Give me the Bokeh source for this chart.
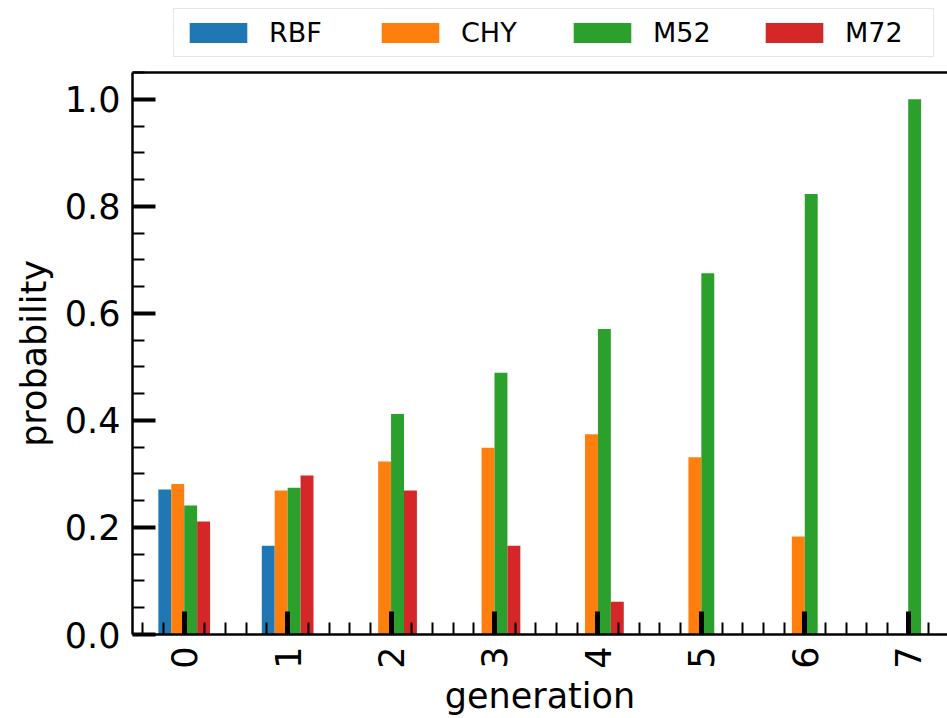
import math
from bokeh.plotting import figure
from bokeh.layouts import column
from bokeh.models import (Range1d, FixedTicker, LinearAxis, Legend, LegendItem,
                          ColumnDataSource, PrintfTickFormatter)
from bokeh.embed import file_html
from bokeh.resources import INLINE

generations = [0, 1, 2, 3, 4, 5, 6, 7]
tick_labels = ["0", "1", "2", "3", "4", "5", "6", "7"]
rbf = [0.271, 0.166, 0.0, 0.0, 0.0, 0.0, 0.0, 0.0]
chy = [0.281, 0.269, 0.323, 0.349, 0.374, 0.331, 0.183, 0.0]
m52 = [0.241, 0.274, 0.412, 0.489, 0.571, 0.675, 0.823, 1.0]
m72 = [0.211, 0.297, 0.269, 0.166, 0.061, 0.0, 0.0, 0.0]

series = [("RBF", rbf, "#1f77b4"), ("CHY", chy, "#ff7f0e"),
          ("M52", m52, "#2ca02c"), ("M72", m72, "#d62728")]

FONT = "DejaVu Sans"
W = 947

bar_w = 0.125
offsets = [-0.1875, -0.0625, 0.0625, 0.1875]
sources = [ColumnDataSource(dict(x=[g + off for g in generations], top=vals))
           for (name, vals, color), off in zip(series, offsets)]

# ---- main plot ----
p = figure(width=W, height=658, x_range=Range1d(-0.5, 7.38), y_range=Range1d(0, 1.05),
           output_backend="svg", toolbar_location=None,
           min_border_left=132, min_border_right=0, min_border_top=12, min_border_bottom=82)
p.outline_line_color = None
p.xgrid.visible = False
p.ygrid.visible = False
p.background_fill_color = "white"
p.border_fill_color = "white"

for (name, vals, color), src in zip(series, sources):
    p.vbar(x="x", top="top", bottom=0, width=bar_w, source=src,
           fill_color=color, line_color=None)

# x axis
xa = p.xaxis[0]
minor_x = [round(k * 0.2, 1) for k in range(-2, 38) if k % 5 != 0]
xa.ticker = FixedTicker(ticks=generations, minor_ticks=minor_x)
xa.major_label_overrides = {g: t for g, t in zip(generations, tick_labels)}
xa.major_label_orientation = math.pi / 2
xa.axis_label = "generation"

# y axis
ya = p.yaxis[0]
ya.ticker = FixedTicker(ticks=[0, 0.2, 0.4, 0.6, 0.8, 1.0],
                        minor_ticks=[round(k * 0.05, 2) for k in range(0, 22) if k % 4 != 0])
ya.formatter = PrintfTickFormatter(format="%.1f")
ya.axis_label = "probability"

for ax in (xa, ya):
    ax.axis_line_color = "black"
    ax.axis_line_width = 2.5
    ax.major_tick_in = 23
    ax.major_tick_out = 0
    ax.minor_tick_in = 12
    ax.minor_tick_out = 0
    ax.major_tick_line_color = "black"
    ax.minor_tick_line_color = "black"
    ax.minor_tick_line_width = 2
    ax.major_label_text_font = FONT
    ax.major_label_text_font_size = "35px"
    ax.major_label_text_color = "black"
    ax.axis_label_text_font = FONT
    ax.axis_label_text_font_size = "35px"
    ax.axis_label_text_font_style = "normal"
    ax.axis_label_text_color = "black"
    ax.major_label_standoff = 12

xa.major_tick_line_width = 5
ya.major_tick_line_width = 4
xa.axis_label_standoff = 4
ya.axis_label_standoff = 8

# top spine
top = LinearAxis(ticker=FixedTicker(ticks=[]), axis_line_width=2.5, axis_line_color="black",
                 major_tick_line_color=None, minor_tick_line_color=None,
                 major_label_text_font_size="0px")
p.add_layout(top, "above")

# ---- legend strip (bars kept outside its view range; only the legend shows) ----
lg = figure(width=W, height=60, x_axis_type=None, y_axis_type=None,
            x_range=Range1d(-0.5, 7.38), y_range=Range1d(5, 6),
            output_backend="svg", toolbar_location=None, min_border=0)
lg.outline_line_color = None
lg.xgrid.visible = False
lg.ygrid.visible = False
items = []
for (name, vals, color), src in zip(series, sources):
    r = lg.vbar(x="x", top="top", bottom=0, width=bar_w, source=src,
                fill_color=color, line_color=None)
    items.append(LegendItem(label=name, renderers=[r]))

legend = Legend(items=items, orientation="horizontal", location=(41, 3),
                glyph_width=72, glyph_height=25, label_standoff=15, label_width=80,
                spacing=25, padding=8, margin=0,
                label_text_font=FONT, label_text_font_size="27px", label_text_color="black",
                border_line_color="#cccccc", border_line_width=1.5,
                background_fill_color="white", background_fill_alpha=1.0)
lg.add_layout(legend, "center")

layout = column(lg, p, spacing=0)
open("out.html", "w").write(file_html(layout, INLINE))
